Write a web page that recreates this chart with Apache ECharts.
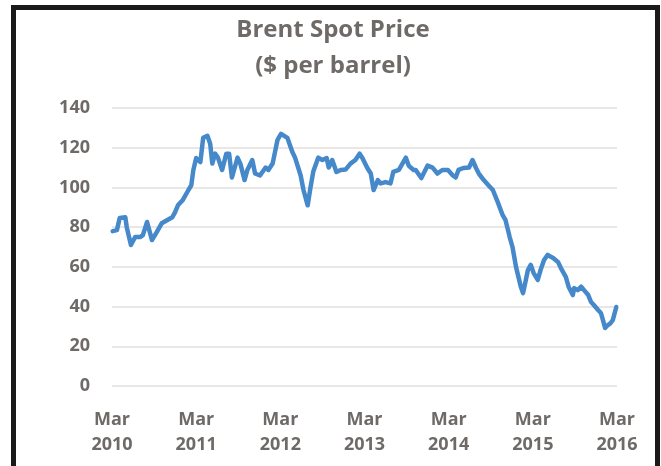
<!DOCTYPE html>
<html>
<head>
<meta charset="utf-8">
<script src="https://cdn.jsdelivr.net/npm/echarts@6/dist/echarts.min.js"></script>
<style>
  html, body { margin: 0; padding: 0; background: #fff; }
  .frame {
    position: absolute; left: 11px; top: 5px; width: 639px; height: 470px;
    border: 5px solid #1a1a1a; border-bottom: none; background: #fff;
  }
  #chart { position: absolute; left: 0; top: 0; width: 661px; height: 466px; }
</style>
</head>
<body>
<div class="frame"></div>
<div id="chart"></div>
<script>
// months counted from Mar 2010
const months = [
  0.1, 0.7, 1.1, 1.9, 2.1, 2.7, 3.3, 4.0, 4.4, 5.0, 5.7, 6.4, 7.1, 7.9, 8.6, 9.0, 9.4, 10.1, 10.9, 11.3,
  11.6, 12.0, 12.6, 13.0, 13.6, 14.0, 14.3, 14.7, 15.1, 15.7, 16.3, 16.7, 17.1, 17.9, 18.3, 18.9, 19.3, 20.0, 20.4, 21.1,
  21.9, 22.3, 22.9, 23.6, 24.1, 25.0, 25.7, 26.1, 26.9, 27.3, 27.9, 28.3, 28.7, 29.4, 30.0, 30.6, 30.9, 31.4, 32.0, 32.6,
  33.3, 34.0, 34.7, 35.3, 35.7, 36.4, 36.9, 37.3, 37.9, 38.3, 39.0, 39.7, 40.1, 40.9, 41.9, 42.3, 42.6, 43.0, 43.3, 44.1,
  45.0, 45.7, 46.4, 47.1, 47.9, 48.6, 49.0, 49.4, 50.1, 50.9, 51.4, 51.9, 52.3, 53.0, 53.7, 54.3, 55.0, 55.7, 56.1, 56.7,
  57.1, 57.6, 58.3, 58.6, 58.8, 59.3, 59.7, 60.1, 60.7, 61.1, 61.6, 62.1, 62.9, 63.6, 64.0, 64.7, 65.1, 65.7, 65.9, 66.4,
  66.9, 67.3, 67.9, 68.3, 68.7, 69.3, 69.7, 70.0, 70.3, 70.7, 71.1, 71.4, 71.9
];
const prices = [
  78, 78.5, 84.6, 85, 80, 71, 75, 75, 76, 82.6, 73.5, 77.6, 82, 83.6, 85, 87.6, 91, 93.7, 98.7, 101,
  108.8, 114.8, 112.8, 125, 126, 122, 112, 117, 115, 108.8, 117, 117, 105, 115, 112, 103.7, 108.8, 113.8, 107, 106,
  110, 108.8, 112, 124, 127, 125, 118, 115, 106, 98.7, 91, 100, 108, 115, 113.8, 114.8, 110, 113.8, 107.8, 108.8,
  109, 112, 113.8, 117, 114.8, 109.8, 107, 98.7, 103.7, 102, 102.7, 102, 107.8, 108.8, 115, 111, 110, 108.8, 108.8, 104.7,
  111, 110, 107, 108.8, 108.8, 106, 105, 108.8, 109.8, 110, 113.8, 109.8, 107, 103.7, 101, 98.7, 92.6, 86, 83.6, 75,
  70, 60, 49.8, 46.8, 50, 58.4, 61, 57, 53.4, 58.4, 63.4, 66, 64.5, 62.4, 59.4, 55, 50, 45.8, 49.3, 48.3,
  50, 48.3, 45.8, 42.3, 40.8, 38.3, 36.8, 33.2, 29.2, 30.7, 31.7, 33.2, 39.8
];
const yTicks = [0, 20, 40, 60, 80, 100, 120, 140];
const startYear = 2010;
const titleLines = ['Brent Spot Price', '($ per barrel)'];

const textColor = '#6e6a68';
const font = 'Open Sans';

const chart = echarts.init(document.getElementById('chart'));
chart.setOption({
  backgroundColor: 'transparent',
  animation: false,
  title: {
    text: titleLines.join('\n'),
    left: 328,
    top: 7,
    textAlign: 'center',
    textStyle: {
      fontFamily: font,
      fontWeight: 'bold',
      fontSize: 24,
      lineHeight: 36,
      color: textColor
    }
  },
  grid: { left: 112, right: 44, top: 108, bottom: 80 },
  xAxis: {
    type: 'value',
    min: 0,
    max: 72,
    interval: 12,
    axisLine: { show: false },
    axisTick: { show: false },
    splitLine: { show: false },
    axisLabel: {
      margin: 21,
      fontFamily: font,
      fontWeight: 'bold',
      fontSize: 18,
      lineHeight: 25,
      color: textColor,
      formatter: v => 'Mar\n' + (startYear + v / 12)
    }
  },
  yAxis: {
    type: 'value',
    min: yTicks[0],
    max: yTicks[yTicks.length - 1],
    interval: 20,
    axisLine: { show: false },
    axisTick: { show: false },
    splitLine: { lineStyle: { color: '#e2dedb', width: 1.5 } },
    axisLabel: {
      margin: 22,
      fontFamily: font,
      fontWeight: 'bold',
      fontSize: 18,
      color: textColor
    }
  },
  series: [{
    type: 'line',
    data: months.map((m, i) => [m, prices[i]]),
    showSymbol: false,
    lineStyle: { color: '#4689cb', width: 4.5, join: 'round', cap: 'round' }
  }]
});
</script>
</body>
</html>
